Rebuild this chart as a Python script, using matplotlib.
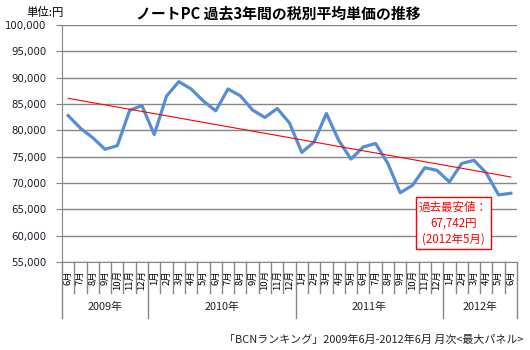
import numpy as np
import matplotlib
matplotlib.use("Agg")
import matplotlib.pyplot as plt
import matplotlib.transforms as mtransforms

plt.rcParams['font.family'] = ['Noto Sans CJK JP', 'DejaVu Sans']

# ---- data ----
years = ["2009年", "2010年", "2011年", "2012年"]
year_months = [list(range(6, 13)), list(range(1, 13)), list(range(1, 13)), list(range(1, 7))]
month_labels = [f"{m}月" for ms in year_months for m in ms]
prices = [82800, 80400, 78600, 76400, 77100, 83800, 84700,
          79200, 86500, 89250, 87850, 85550, 83700, 87850, 86550, 83850, 82450, 84150,
          81400, 75800, 77800, 83200, 78100, 74550, 76850, 77500, 73700, 68150, 69550,
          72900, 72400, 70200, 73700, 74300, 71900, 67742, 68050]
title = "ノートPC 過去3年間の税別平均単価の推移"
unit_label = "単位:円"
note_text = "過去最安値：\n67,742円\n(2012年5月)"
source_text = "「BCNランキング」2009年6月-2012年6月 月次<最大パネル>"

W, H = 530, 350
fig = plt.figure(figsize=(W / 100, H / 100), dpi=100)
x0, x1, ytop, ybot = 62, 517, 25, 262
ax = fig.add_axes([x0 / W, 1 - ybot / H, (x1 - x0) / W, (ybot - ytop) / H])

n = len(prices)
x = np.arange(n)
grid_c = "#868686"

ax.set_ylim(55000, 100000)
ax.set_xlim(-0.5, n - 0.5)
ax.set_yticks(np.arange(55000, 100001, 5000))
ax.yaxis.set_major_formatter(matplotlib.ticker.FuncFormatter(lambda v, p: f"{int(v):,}"))
ax.grid(axis='y', color=grid_c, lw=1.0)
ax.set_axisbelow(True)
for s in ['top', 'right']:
    ax.spines[s].set_visible(False)
ax.spines['left'].set_color(grid_c)
ax.spines['bottom'].set_color(grid_c)
ax.tick_params(axis='y', length=4, color=grid_c, pad=7, labelsize=7.3, labelcolor="#1a1a2a")
for lab in ax.get_yticklabels():
    lab.set_family('DejaVu Sans')

ax.set_xticks(x)
ax.set_xticklabels(month_labels, rotation=90, fontsize=6.8)
ax.tick_params(axis='x', length=0, pad=6)

# data line
ax.plot(x, prices, color="#558ED5", lw=2.3, solid_joinstyle='round', zorder=3)
# linear trendline
coef = np.polyfit(x, prices, 1)
ax.plot([x[0], x[-1]], np.polyval(coef, [x[0], x[-1]]), color="red", lw=0.8, zorder=4)

# category separators
tr = mtransforms.blended_transform_factory(ax.transData, ax.transAxes)
ah = ybot - ytop
month_h = (293 - ybot) / ah
year_h = (318 - ybot) / ah
bounds = np.cumsum([0] + [len(m) for m in year_months]) - 0.5
for b in np.arange(-0.5, n, 1.0):
    h = year_h if np.any(np.isclose(b, bounds)) else month_h
    ax.plot([b, b], [0, -h], color=grid_c, lw=1.0, transform=tr, clip_on=False)
for i, yl in enumerate(years):
    cx = (bounds[i] + bounds[i + 1]) / 2
    ax.text(cx, -(307 - ybot) / ah, yl, transform=tr, ha='center', va='center',
            fontsize=7.8, color="#222222")

# annotation
ax.text((453.5 - x0) / (x1 - x0), (ybot - 223) / ah, note_text, transform=ax.transAxes,
        ha='center', va='center', fontsize=8.3, color='red', linespacing=1.3,
        bbox=dict(boxstyle='square,pad=0.3', fc='white', ec='red', lw=1.0), zorder=5)

fig.text(278 / W, 1 - 13 / H, title, ha='center', va='center', fontsize=10.7, fontweight='bold')
fig.text(45 / W, 1 - 12 / H, unit_label, ha='center', va='center', fontsize=8.2)
fig.text(523 / W, 1 - 340 / H, source_text, ha='right', va='center', fontsize=7.9, color="#222222")

fig.savefig("out.png", dpi=100)
